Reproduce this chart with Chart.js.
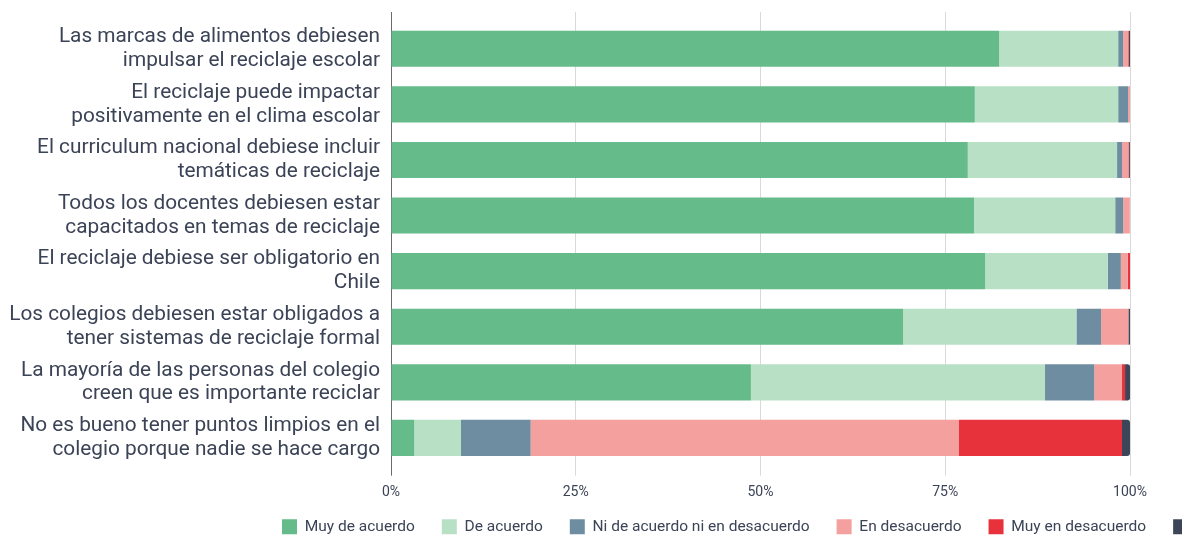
<!DOCTYPE html>
<html>
<head>
<meta charset="utf-8">
<script src="https://cdn.jsdelivr.net/npm/chart.js@4.4.0/dist/chart.umd.min.js"></script>
<style>
  html, body { margin: 0; padding: 0; background: #ffffff; overflow: hidden; }
  #wrap { position: relative; width: 1182px; height: 535px; }
</style>
</head>
<body>
<div id="wrap"><canvas id="c" width="1182" height="535"></canvas></div>
<script>
const categories = [
  ["Las marcas de alimentos debiesen", "impulsar el reciclaje escolar"],
  ["El reciclaje puede impactar", "positivamente en el clima escolar"],
  ["El curriculum nacional debiese incluir", "temáticas de reciclaje"],
  ["Todos los docentes debiesen estar", "capacitados en temas de reciclaje"],
  ["El reciclaje debiese ser obligatorio en", "Chile"],
  ["Los colegios debiesen estar obligados a", "tener sistemas de reciclaje formal"],
  ["La mayoría de las personas del colegio", "creen que es importante reciclar"],
  ["No es bueno tener puntos limpios en el", "colegio porque nadie se hace cargo"]
];

const seriesNames = ["Muy de acuerdo", "De acuerdo", "Ni de acuerdo ni en desacuerdo", "En desacuerdo", "Muy en desacuerdo", "No sabe"];

const muyDeAcuerdo    = [82.3, 79.0, 78.05, 78.9, 80.4, 69.3, 48.7, 3.15];
const deAcuerdo       = [16.1, 19.4, 20.2, 19.1, 16.6, 23.45, 39.8, 6.32];
const niNi            = [0.68, 1.35, 0.68, 1.08, 1.76, 3.34, 6.67, 9.43];
const enDesacuerdo    = [0.68, 0.25, 0.85, 0.9, 0.95, 3.69, 3.75, 57.96];
const muyEnDesacuerdo = [0.1, 0, 0.1, 0, 0.31, 0, 0.41, 22.06];
const noSabe          = [0.14, 0, 0.12, 0, 0, 0.23, 0.68, 1.08];

const xTickLabels = ["0%", "25%", "50%", "75%", "100%"];

const seriesColors = ["#65bb8a", "#b8e0c5", "#6e8da0", "#f4a09f", "#e7323c", "#3d4659"];
const seriesValues = [muyDeAcuerdo, deAcuerdo, niNi, enDesacuerdo, muyEnDesacuerdo, noSabe];

const textColor = "#3b4356";
const gridColor = "#d9d9d9";
const axisColor = "#6b6b6b";
const gridCol = (ctx) => (ctx.index === 0 ? axisColor : gridColor);

const legendPlacer = {
  id: "legendPlacer",
  afterLayout(chart) {
    const lg = chart.legend;
    if (!lg) return;
    const pad = lg.options.labels.padding;
    lg.left = 282 - pad;
    lg.right = lg.left + 3000;
    lg.width = lg.right - lg.left;
    lg.top = 519 - pad;
  }
};

const datasets = seriesNames.map((name, i) => ({
  label: name,
  data: seriesValues[i],
  backgroundColor: seriesColors[i],
  borderWidth: 0,
  borderSkipped: "start",
  borderRadius: i === seriesNames.length - 1 ? 3 : 0,
  categoryPercentage: 1,
  barPercentage: 0.65
}));

Chart.defaults.font.family = "Roboto";
Chart.defaults.color = textColor;

new Chart(document.getElementById("c"), {
  type: "bar",
  data: { labels: categories, datasets },
  plugins: [legendPlacer],
  options: {
    indexAxis: "y",
    responsive: false,
    animation: false,
    layout: { padding: { top: 12, right: 52, bottom: -26, left: 0 } },
    scales: {
      x: {
        type: "linear",
        stacked: true,
        min: 0,
        max: 100,
        position: "bottom",
        ticks: {
          stepSize: 25,
          callback: (v, i) => xTickLabels[i],
          color: textColor,
          font: { size: 14 },
          padding: 8,
          maxRotation: 0
        },
        grid: { color: gridCol, tickColor: gridCol, tickLength: 10, lineWidth: 1 },
        border: { display: false }
      },
      x2: {
        type: "linear",
        min: 0,
        max: 100,
        position: "top",
        ticks: { display: false, stepSize: 25 },
        grid: { drawOnChartArea: false, drawTicks: true, tickLength: 9, color: gridCol, tickColor: gridCol },
        border: { display: false }
      },
      y: {
        type: "category",
        stacked: true,
        ticks: {
          color: textColor,
          font: { size: 20.8, lineHeight: 1.15 },
          padding: 11,
          autoSkip: false
        },
        grid: { display: true, drawOnChartArea: false, drawTicks: false },
        border: { display: true, color: axisColor, width: 1 },
        afterFit(scale) {
          scale.width = 391;
          scale.paddingTop = 0;
          scale.paddingBottom = 0;
        }
      }
    },
    plugins: {
      legend: {
        position: "bottom",
        align: "start",
        labels: {
          boxWidth: 15,
          boxHeight: 15,
          padding: 27,
          color: textColor,
          font: { size: 15.5 }
        }
      },
      tooltip: { enabled: false }
    }
  }
});
</script>
</body>
</html>
